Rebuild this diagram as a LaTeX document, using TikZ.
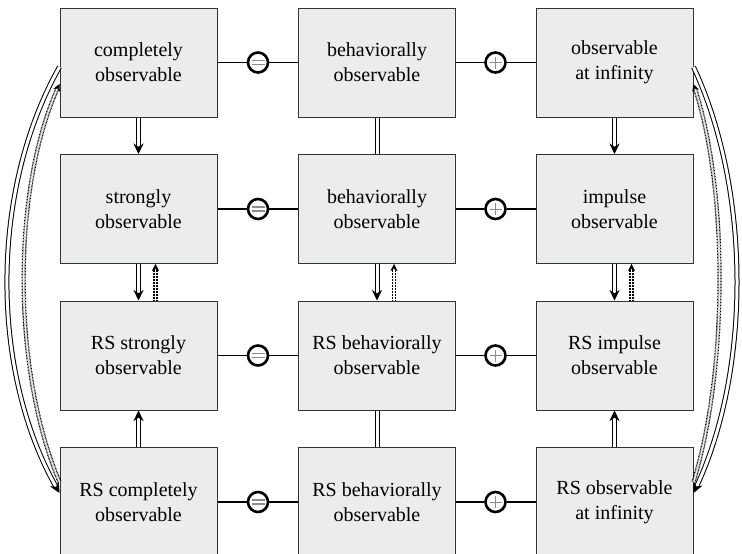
\documentclass[tikz,border=0pt]{standalone}
\usepackage{fontspec}
\setmainfont{Liberation Serif}
\newfontfamily\boxfont{Liberation Serif}
\usetikzlibrary{arrows.meta}

\definecolor{boxfill}{HTML}{EBECEC}
\definecolor{boxline}{HTML}{333333}
\definecolor{signgray}{HTML}{8C8C8C}

\tikzset{
  box/.style={draw=boxline, line width=1pt, fill=boxfill,
    minimum width=157pt, minimum height=109pt, inner sep=0pt,
    align=center, font=\boxfont\fontsize{20}{25}\selectfont},
  link/.style={draw, line width=1.7pt},
  opcirc/.style={circle, draw, line width=2.6pt, fill=white,
    minimum size=20pt, inner sep=0pt},
  eqsign/.style={opcirc, path picture={
      \draw[signgray, line width=1.1pt]
        ([xshift=-6.5pt,yshift=2pt]path picture bounding box.center) -- ++(13pt,0pt)
        ([xshift=-6.5pt,yshift=-2pt]path picture bounding box.center) -- ++(13pt,0pt);}},
  plussign/.style={opcirc, path picture={
      \draw[signgray, line width=0.8pt]
        ([xshift=-6pt]path picture bounding box.center) -- ++(12pt,0pt)
        ([yshift=-6pt]path picture bounding box.center) -- ++(0pt,12pt);}},
  twin/.style={draw=black, line width=1pt, double=white, double distance=3pt},
  dottwin/.style={draw=black, line width=1.2pt, double=white, double distance=1.8pt,
    dash pattern=on 0.8pt off 0.7pt},
  % a white centre line that only carries the black tip
  bigtip/.style={draw=white, line width=0.5pt,
    -{Stealth[length=10.5pt,width=10pt,color=black]}},
  smalltip/.style={draw=white, line width=0.4pt,
    -{Stealth[length=7pt,width=7pt,color=black]}}
}
% double implication and its dotted variant
\newcommand\strongimpl[1]{\path[twin, shorten >=7pt] #1; \path[bigtip] #1;}
\newcommand\weakimpl[1]{\path[dottwin, shorten >=4.5pt] #1; \path[smalltip] #1;}

\begin{document}
\begin{tikzpicture}[x=1pt, y=-1pt]
  \useasboundingbox (0,0) rectangle (742,554);
  \clip (0,0) rectangle (742,554);

  % grid of properties
  \node[box] (c11) at (138.5,62.5) {completely\\observable};
  \node[box] (c12) at (377,62.5)   {behaviorally\\observable};
  \node[box] (c13) at (614.5,62.5) {observable\\at infinity};

  \node[box] (c21) at (138.5,209) {strongly\\observable};
  \node[box] (c22) at (377,209)   {behaviorally\\observable};
  \node[box] (c23) at (614.5,209) {impulse\\observable};

  \node[box] (c31) at (138.5,355.5) {RS strongly\\observable};
  \node[box] (c32) at (377,355.5)   {RS behaviorally\\observable};
  \node[box] (c33) at (614.5,355.5) {RS impulse\\observable};

  \node[box] (c41) at (138.5,502) {RS completely\\observable};
  \node[box] (c42) at (377,502)   {RS behaviorally\\observable};
  \node[box] (c43) at (614.5,502) {RS observable\\at infinity};

  % "=" and "+" combinators in each row
  \foreach \r/\y in {1/62.5, 2/209, 3/355.5, 4/502} {
    \node[eqsign] (e\r) at (258,\y) {};
    \node[plussign] (p\r) at (495.5,\y) {};
    \draw[link] (c\r1) -- (e\r) -- (c\r2);
    \draw[link] (c\r2) -- (p\r) -- (c\r3);
  }

  % row 1 -> row 2
  \strongimpl{(c11.south) -- (c21.north)}
  \path[twin] (c12.south) -- (c22.north);
  \strongimpl{(c13.south) -- (c23.north)}

  % row 2 <-> row 3
  \foreach \c in {1,2,3} {
    \strongimpl{(c2\c.south) -- (c3\c.north)}
    \weakimpl{([xshift=17pt]c3\c.north) -- ([xshift=17pt]c2\c.south)}
  }

  % row 4 -> row 3
  \strongimpl{(c41.north) -- (c31.south)}
  \path[twin] (c42.north) -- (c32.south);
  \strongimpl{(c43.north) -- (c33.south)}

  % long arcs between the first and last rows
  \coordinate (ls1) at (-10,190);
  \coordinate (ls2) at (-10,370);
  \coordinate (ld1) at (12,370);
  \coordinate (ld2) at (12,190);
  \coordinate (rs1) at (751,190);
  \coordinate (rs2) at (751,370);
  \coordinate (rd1) at (728,370);
  \coordinate (rd2) at (728,190);

  \strongimpl{([yshift=-4.5pt]c11.west) .. controls (ls1) and (ls2) .. ([yshift=9pt]c41.west)}
  \weakimpl{([yshift=20pt]c41.west) .. controls (ld1) and (ld2) .. ([yshift=-21.5pt]c11.west)}
  \strongimpl{([yshift=-4.5pt]c13.east) .. controls (rs1) and (rs2) .. ([yshift=9pt]c43.east)}
  \weakimpl{([yshift=20pt]c43.east) .. controls (rd1) and (rd2) .. ([yshift=-21.5pt]c13.east)}
\end{tikzpicture}
\end{document}
